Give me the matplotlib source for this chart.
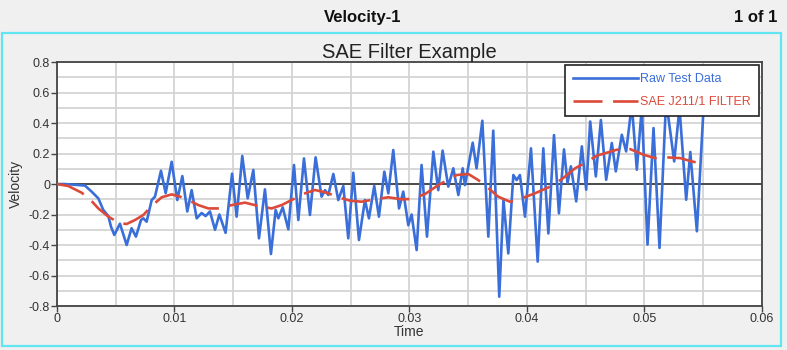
import matplotlib.pyplot as plt
from matplotlib.patches import Rectangle
from matplotlib.ticker import MultipleLocator

plt.rcParams['font.family'] = ['Liberation Sans', 'DejaVu Sans']

# raw accelerometer-derived velocity, time in ms
t_raw = [0.00, 0.60, 1.20, 2.38, 2.95, 3.52, 3.94, 4.37, 4.60, 4.88,
         5.36, 5.93, 6.35, 6.72, 7.15, 7.35, 7.63, 8.06, 8.34, 8.85,
         9.25, 9.76, 10.24, 10.67, 11.09, 11.46, 11.89, 12.31, 12.65, 13.02,
         13.45, 13.82, 14.35, 14.90, 15.29, 15.77, 16.23, 16.71, 17.19, 17.70,
         18.21, 18.61, 18.84, 19.21, 19.69, 20.17, 20.54, 21.02, 21.53, 22.01,
         22.52, 22.81, 23.09, 23.52, 23.94, 24.37, 24.79, 25.22, 25.70, 26.21,
         26.55, 27.00, 27.40, 27.86, 28.20, 28.62, 29.11, 29.47, 29.90, 30.18,
         30.61, 31.03, 31.49, 32.03, 32.45, 32.82, 33.30, 33.73, 34.16, 34.53,
         34.72, 34.95, 35.38, 35.71, 36.20, 36.71, 37.13, 37.64, 38.00, 38.41,
         38.84, 39.12, 39.40, 39.83, 40.34, 40.91, 41.39, 41.82, 42.30, 42.72,
         43.15, 43.45, 43.74, 44.19, 44.67, 45.04, 45.38, 45.86, 46.29, 46.74,
         47.22, 47.56, 48.07, 48.44, 48.92, 49.35, 49.77, 50.26, 50.77, 51.28,
         51.84, 52.53, 52.98, 53.55, 53.90, 54.46, 55.00]
v_raw = [0.000, 0.000, -0.003, -0.010, -0.050, -0.094, -0.170, -0.210, -0.280, -0.334,
         -0.260, -0.400, -0.290, -0.345, -0.236, -0.225, -0.247, -0.105, -0.083, 0.087,
         -0.060, 0.146, -0.105, 0.052, -0.180, -0.040, -0.225, -0.190, -0.210, -0.180,
         -0.300, -0.200, -0.320, 0.068, -0.214, 0.184, -0.094, 0.092, -0.356, -0.035,
         -0.459, -0.170, -0.225, -0.153, -0.297, 0.125, -0.236, 0.168, -0.203, 0.175,
         -0.083, -0.040, -0.072, 0.066, -0.105, -0.013, -0.356, 0.074, -0.367, -0.105,
         -0.225, -0.013, -0.214, 0.081, -0.061, 0.223, -0.160, -0.050, -0.270, -0.200,
         -0.433, 0.125, -0.345, 0.212, -0.040, 0.219, -0.017, 0.103, -0.072, 0.103,
         -0.007, 0.090, 0.271, 0.103, 0.415, -0.345, 0.350, -0.739, -0.105, -0.455,
         0.059, 0.026, 0.059, -0.214, 0.234, -0.509, 0.234, -0.324, 0.321, -0.192,
         0.227, 0.007, 0.116, -0.114, 0.247, -0.037, 0.410, 0.050, 0.420, 0.028,
         0.269, 0.083, 0.323, 0.214, 0.520, 0.094, 0.500, -0.397, 0.367, -0.419,
         0.550, 0.148, 0.500, -0.103, 0.210, -0.310, 0.460]

# SAE J211/1 filtered channel
t_filt = [0.00, 0.96, 2.10, 2.81, 3.52, 4.37, 5.36, 5.93, 6.64, 7.35,
          8.06, 8.91, 9.76, 10.47, 11.18, 12.03, 12.88, 13.87, 14.87, 16.00,
          17.14, 18.27, 19.12, 19.97, 21.11, 21.96, 22.95, 23.94, 24.94, 25.93,
          27.06, 28.20, 29.33, 30.18, 31.32, 32.45, 34.01, 35.00, 35.85, 36.84,
          37.55, 38.55, 39.54, 40.68, 41.82, 42.95, 44.09, 44.81, 45.95, 47.65,
          48.78, 49.92, 50.91, 51.90, 53.04, 54.03, 55.02]
v_filt = [0.000, -0.013, -0.057, -0.100, -0.160, -0.214, -0.258, -0.262, -0.236, -0.203,
          -0.144, -0.087, -0.068, -0.083, -0.105, -0.138, -0.160, -0.160, -0.138, -0.122,
          -0.144, -0.160, -0.138, -0.105, -0.061, -0.039, -0.057, -0.087, -0.109, -0.116,
          -0.100, -0.087, -0.100, -0.098, -0.066, -0.007, 0.059, 0.066, 0.026, -0.035,
          -0.083, -0.116, -0.094, -0.061, -0.022, 0.031, 0.103, 0.133, 0.186, 0.225,
          0.229, 0.192, 0.170, 0.175, 0.170, 0.148, 0.133]

blue = '#3a6ed8'
red = '#dc4a3a'
bg = '#f0f0f0'

fig = plt.figure(figsize=(7.87, 3.5), dpi=100, facecolor=bg)
fig.patches.append(Rectangle((0.0025, 0.0114), 0.9898, 0.894, transform=fig.transFigure,
                             fill=False, edgecolor='#5fe6f2', linewidth=1.6))
fig.text(0.461, 0.951, 'Velocity-1', ha='center', va='center', fontsize=12,
         fontweight='bold', color='#111111')
fig.text(0.988, 0.951, '1 of 1', ha='right', va='center', fontsize=12,
         fontweight='bold', color='#111111')

ax = fig.add_axes([0.0724, 0.1257, 0.8958, 0.697])
ax.set_facecolor('white')

ax.plot([t * 1e-3 for t in t_raw], v_raw, color=blue, linewidth=1.9,
        solid_joinstyle='round', label='Raw Test Data', zorder=3)
red_line, = ax.plot([t * 1e-3 for t in t_filt], v_filt, color=red, linewidth=1.9,
                    label='SAE J211/1 FILTER', zorder=4)
red_line.set_dashes([11, 4])

ax.axhline(0, color='#333333', linewidth=1.2, zorder=2)

ax.set_xlim(0, 0.06)
ax.set_ylim(-0.8, 0.8)
ax.xaxis.set_minor_locator(MultipleLocator(0.005))
ax.yaxis.set_minor_locator(MultipleLocator(0.1))
ax.set_xticks([0, 0.01, 0.02, 0.03, 0.04, 0.05, 0.06])
ax.set_xticklabels(['0', '0.01', '0.02', '0.03', '0.04', '0.05', '0.06'])
ax.set_yticks([0.8, 0.6, 0.4, 0.2, 0, -0.2, -0.4, -0.6, -0.8])
ax.set_yticklabels(['0.8', '0.6', '0.4', '0.2', '0', '-0.2', '-0.4', '-0.6', '-0.8'])
ax.grid(which='both', color='#d4d4d4', linewidth=1.3, zorder=1)
ax.set_axisbelow(True)
ax.tick_params(which='major', direction='out', length=4, width=1, color='#444444',
               labelsize=9, labelcolor='#333333', pad=1)
ax.tick_params(which='minor', length=0)
for s in ax.spines.values():
    s.set_color('#444444')
    s.set_linewidth(1.3)

ax.set_title('SAE Filter Example', fontsize=14.5, color='#222222', pad=3)
ax.set_xlabel('Time', fontsize=10, color='#333333', labelpad=0)
ax.set_ylabel('Velocity', fontsize=10, color='#333333', labelpad=4)

leg = ax.legend(loc='upper right', fontsize=9, frameon=True, fancybox=False,
                framealpha=1, edgecolor='#222222', borderaxespad=0.25,
                handlelength=5.2, handletextpad=0.15, borderpad=0.65,
                labelspacing=0.85)
leg.get_frame().set_linewidth(1.2)
leg.set_zorder(10)
# legend text takes the colour of its line
for txt, col in zip(leg.get_texts(), [blue, red]):
    txt.set_color(col)

fig.savefig('out.png', dpi=100, facecolor=bg)
